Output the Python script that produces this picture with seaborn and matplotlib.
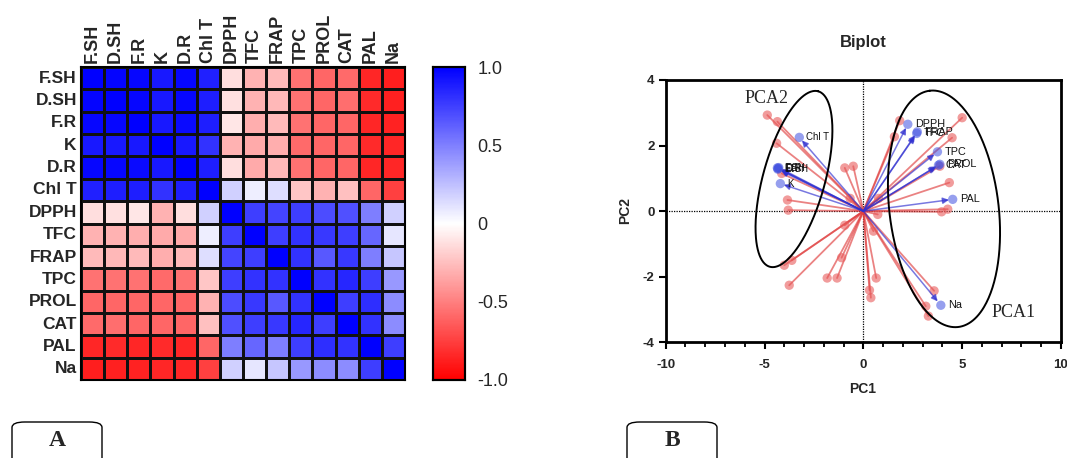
import numpy as np
import pandas as pd
import matplotlib
matplotlib.use("Agg")
import matplotlib.pyplot as plt
import seaborn as sns
from matplotlib.colors import LinearSegmentedColormap
from matplotlib.patches import FancyBboxPatch

# ---------------- data ----------------
variables = ["F.SH", "D.SH", "F.R", "K", "D.R", "Chl T", "DPPH", "TFC",
             "FRAP", "TPC", "PROL", "CAT", "PAL", "Na"]

r_FSH  = [1.00, 0.98, 0.97, 0.90, 0.97, 0.87, -0.13, -0.30, -0.27, -0.55, -0.60, -0.58, -0.85, -0.88]
r_DSH  = [0.98, 1.00, 0.97, 0.90, 0.97, 0.88, -0.12, -0.30, -0.28, -0.55, -0.60, -0.57, -0.83, -0.87]
r_FR   = [0.97, 0.97, 1.00, 0.90, 0.96, 0.88, -0.10, -0.32, -0.27, -0.55, -0.60, -0.60, -0.85, -0.86]
r_K    = [0.90, 0.90, 0.90, 1.00, 0.90, 0.80, -0.30, -0.33, -0.32, -0.58, -0.60, -0.60, -0.83, -0.85]
r_DR   = [0.97, 0.97, 0.96, 0.90, 1.00, 0.88, -0.13, -0.33, -0.28, -0.55, -0.60, -0.60, -0.85, -0.85]
r_ChlT = [0.87, 0.88, 0.88, 0.80, 0.88, 1.00, 0.18, 0.07, 0.13, -0.22, -0.30, -0.25, -0.60, -0.75]
r_DPPH = [-0.13, -0.12, -0.10, -0.30, -0.13, 0.18, 1.00, 0.75, 0.73, 0.75, 0.70, 0.68, 0.50, 0.18]
r_TFC  = [-0.30, -0.30, -0.32, -0.33, -0.33, 0.07, 0.75, 1.00, 0.75, 0.80, 0.78, 0.75, 0.60, 0.10]
r_FRAP = [-0.27, -0.28, -0.27, -0.32, -0.28, 0.13, 0.73, 0.75, 1.00, 0.80, 0.65, 0.78, 0.50, 0.22]
r_TPC  = [-0.55, -0.55, -0.55, -0.58, -0.55, -0.22, 0.75, 0.80, 0.80, 1.00, 0.80, 0.85, 0.75, 0.40]
r_PROL = [-0.60, -0.60, -0.60, -0.60, -0.60, -0.30, 0.70, 0.78, 0.65, 0.80, 1.00, 0.75, 0.82, 0.45]
r_CAT  = [-0.58, -0.57, -0.60, -0.60, -0.60, -0.25, 0.68, 0.75, 0.78, 0.85, 0.75, 1.00, 0.80, 0.45]
r_PAL  = [-0.85, -0.83, -0.85, -0.83, -0.85, -0.60, 0.50, 0.60, 0.50, 0.75, 0.82, 0.80, 1.00, 0.75]
r_Na   = [-0.88, -0.87, -0.86, -0.85, -0.85, -0.75, 0.18, 0.10, 0.22, 0.40, 0.45, 0.45, 0.75, 1.00]

cbar_ticks = [1.0, 0.5, 0.0, -0.5, -1.0]
cbar_labels = ["1.0", "0.5", "0", "-0.5", "-1.0"]

# PCA observation scores
obs_pc1 = [-4.86, -4.35, -4.39, -4.13, -3.84, -3.80, -0.94, -0.51, -0.67, -0.94, -1.10,
           -1.83, -1.33, -3.62, -4.00, -3.75, 0.51, 0.73, 0.65, 0.31, 0.38, 3.58,
           3.16, 3.29, 3.96, 4.27, 4.35, 3.87, 4.49, 5.00, 1.84, 1.57, 0.77]
obs_pc2 = [2.93, 2.73, 2.07, 1.15, 0.34, 0.03, 1.32, 1.37, 0.39, -0.43, -1.42,
           -2.04, -2.04, -1.50, -1.65, -2.26, -0.61, -0.10, -2.04, -2.41, -2.64, -2.43,
           -2.90, -3.20, -0.02, 0.06, 0.87, 1.37, 2.24, 2.85, 2.76, 2.27, 0.39]

# PCA variable loadings
var_names = ["F.SH", "D.SH", "F.R", "D.R", "K", "Chl T", "DPPH", "TFC", "FRAP",
             "TPC", "PROL", "CAT", "PAL", "Na"]
var_pc1 = [-4.35, -4.30, -4.33, -4.28, -4.20, -3.24, 2.25, 2.70, 2.73, 3.75, 3.87, 3.80, 4.52, 3.92]
var_pc2 = [1.32, 1.30, 1.28, 1.33, 0.84, 2.25, 2.65, 2.37, 2.42, 1.81, 1.43, 1.40, 0.36, -2.87]

# ---------------- style ----------------
sns.set_theme(style="white")
plt.rcParams["font.family"] = ["Liberation Sans", "DejaVu Sans"]

W, H = 1067, 458
fig = plt.figure(figsize=(W / 100, H / 100), dpi=100)

def fx(px):
    return px / W

def fy(py):
    return 1 - py / H

# ---------------- Panel A: heatmap ----------------
corr = pd.DataFrame([r_FSH, r_DSH, r_FR, r_K, r_DR, r_ChlT, r_DPPH, r_TFC,
                     r_FRAP, r_TPC, r_PROL, r_CAT, r_PAL, r_Na],
                    index=variables, columns=variables)

cmap = LinearSegmentedColormap.from_list("rwb", ["#ff0000", "#ffffff", "#0000ff"])

ax_h = fig.add_axes([fx(81), fy(380), (405 - 81) / W, (380 - 67) / H])
cax = fig.add_axes([fx(433), fy(380), (465 - 433) / W, (380 - 67) / H])

sns.heatmap(corr, ax=ax_h, cmap=cmap, vmin=-1, vmax=1, linewidths=1.0,
            linecolor="#111111", cbar_ax=cax, square=False)
ax_h.xaxis.tick_top()
ax_h.set_xticklabels(variables, rotation=90, fontsize=13, fontweight="bold")
ax_h.set_yticklabels(variables, rotation=0, fontsize=12.5, fontweight="bold")
ax_h.tick_params(length=0, pad=3)
ax_h.set_xlabel("")
ax_h.set_ylabel("")
for s in ax_h.spines.values():
    s.set_visible(True)
    s.set_linewidth(1.5)
    s.set_color("black")

cax.set_yticks(cbar_ticks)
cax.set_yticklabels(cbar_labels, fontsize=13)
cax.tick_params(axis="y", direction="in", left=True, right=True, length=4,
                width=1.2, color="black", pad=9)
for s in cax.spines.values():
    s.set_visible(True)
    s.set_linewidth(1.5)
    s.set_color("black")
cbar = ax_h.collections[0].colorbar
cbar.outline.set_linewidth(1.5)
cbar.outline.set_edgecolor("black")

# ---------------- Panel B: biplot ----------------
bx0, bx1, by0, by1 = 665.7, 1061.0, 80.0, 342.3
ax_b = fig.add_axes([fx(bx0), fy(by1), (bx1 - bx0) / W, (by1 - by0) / H])
ax_b.set_xlim(-10, 10)
ax_b.set_ylim(-4, 4)

ax_b.axhline(0, color="black", lw=0.9, ls=(0, (1, 1)), zorder=0.5)
ax_b.axvline(0, color="black", lw=0.9, ls=(0, (1, 1)), zorder=0.5)

red_line = "#e04040"
for x, y in zip(obs_pc1, obs_pc2):
    ax_b.plot([0, x], [0, y], color=red_line, alpha=0.65, lw=1.3, zorder=1)
sns.scatterplot(x=obs_pc1, y=obs_pc2, ax=ax_b, color="#e85a5a", alpha=0.6,
                s=45, edgecolor="none", zorder=2, legend=False)

for x, y in zip(var_pc1, var_pc2):
    ax_b.annotate("", xy=(x * 0.96, y * 0.96), xytext=(0, 0),
                  arrowprops=dict(arrowstyle="-|>", color="#3030d0", alpha=0.65,
                                  lw=1.1, mutation_scale=9, shrinkA=0, shrinkB=0),
                  zorder=3)
sns.scatterplot(x=var_pc1, y=var_pc2, ax=ax_b, color="#4050e0", alpha=0.55,
                s=45, edgecolor="none", zorder=4, legend=False)
for n, x, y in zip(var_names, var_pc1, var_pc2):
    fs = 7.0 if n in ("Chl T", "K", "F.SH", "D.SH", "F.R", "D.R") else 7.8
    ax_b.annotate(n, xy=(x, y), xytext=(5, 0), textcoords="offset points",
                  fontsize=fs, va="center", ha="left", color="#111111", zorder=5)

# ellipses (drawn in screen pixels, mapped back to data)
sx = (bx1 - bx0) / 20.0
sy = (by1 - by0) / 8.0

def ellipse(cx, cy, a_px, b_px, ang_deg):
    t = np.linspace(0, 2 * np.pi, 300)
    th = np.deg2rad(ang_deg)
    dx = a_px * np.cos(t) * np.cos(th) - b_px * np.sin(t) * np.sin(th)
    dy = a_px * np.cos(t) * np.sin(th) + b_px * np.sin(t) * np.cos(th)
    ax_b.plot(cx + dx / sx, cy + dy / sy, color="black", lw=1.4, zorder=6)

ellipse(-3.51, 0.98, 91, 31, 74.6)
ellipse(4.08, 0.07, 119, 54.6, 96.9)

ax_b.text(-4.9, 3.43, "PCA2", fontfamily="Liberation Serif", fontsize=13,
          ha="center", va="center", zorder=7)
ax_b.text(7.6, -3.1, "PCA1", fontfamily="Liberation Serif", fontsize=13,
          ha="center", va="center", zorder=7)

ax_b.set_xticks([-10, -5, 0, 5, 10])
ax_b.set_xticks(np.arange(-10, 11, 1), minor=True)
ax_b.set_yticks([-4, -2, 0, 2, 4])
ax_b.set_xticklabels(["-10", "-5", "0", "5", "10"], fontsize=9.5, fontweight="bold")
ax_b.set_yticklabels(["-4", "-2", "0", "2", "4"], fontsize=9.5, fontweight="bold")
ax_b.tick_params(axis="both", which="major", direction="out", length=5, width=1.5,
                 color="black", bottom=True, left=True, pad=3)
ax_b.tick_params(axis="x", which="major", pad=7)
ax_b.tick_params(axis="x", which="minor", direction="out", length=3.5, width=1.3,
                 color="black", bottom=True)
for s in ax_b.spines.values():
    s.set_linewidth(2.0)
    s.set_color("black")

fig.text(fx(863), fy(43), "Biplot", ha="center", va="center", fontsize=12, fontweight="bold")
fig.text(fx(863), fy(389), "PC1", ha="center", va="center", fontsize=10, fontweight="bold")
fig.text(fx(625), fy(211), "PC2", ha="center", va="center", fontsize=10,
         fontweight="bold", rotation=90)

# ---------------- panel tags ----------------
for left, right, letter in [(12, 102, "A"), (627, 717, "B")]:
    box = FancyBboxPatch((fx(left), -0.05), (right - left) / W, (H - 422) / H + 0.05,
                         boxstyle="round,pad=0,rounding_size=0.012",
                         transform=fig.transFigure, fc="white", ec="black", lw=1.0,
                         mutation_aspect=H / W * 2.3)
    fig.add_artist(box)
    fig.text(fx((left + right) / 2), fy(441), letter, ha="center", va="center",
             fontfamily="Liberation Serif", fontweight="bold", fontsize=17)

fig.savefig("out.png", dpi=100)
